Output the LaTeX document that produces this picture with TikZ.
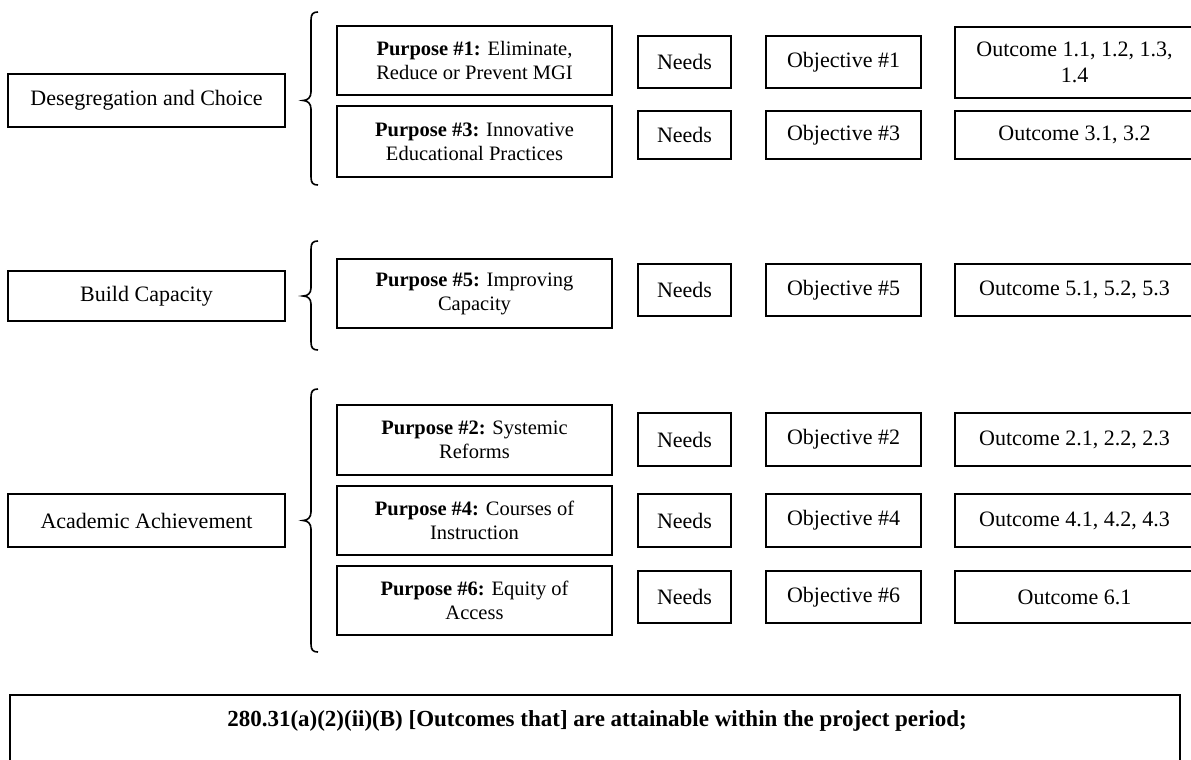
\documentclass[tikz,border=0pt]{standalone}
\usepackage{fontspec}
\setmainfont{Liberation Serif}
\begin{document}
\begin{tikzpicture}[x=1pt,y=-1pt,
  box/.style={draw, line width=1.7pt, inner sep=0pt, align=center,
    font=\fontsize{22}{26}\selectfont},
  pbox/.style={box, font=\fontsize{20.5}{24}\selectfont},
  catbox/.style={box, minimum width=277pt, minimum height=53pt},
  purbox/.style={pbox, minimum width=275pt, minimum height=70pt},
  needbox/.style={box, minimum width=93pt, minimum height=52pt},
  objbox/.style={box, minimum width=155pt, minimum height=52pt},
  outbox/.style={box, minimum width=239pt, minimum height=52pt},
  bracepath/.style={line width=1.6pt}]
\useasboundingbox (0,0) rectangle (1191,760);
\fill[white] (0,0) rectangle (1191,760);

% categories
\node[catbox] (dc) at (146.5,100.5) {Desegregation and Choice};
\node[catbox, minimum height=50pt] (bc) at (146.5,296) {Build Capacity};
\node[catbox] (aa) at (146.5,520.5) {Academic Achievement};

% group 1
\node[purbox, minimum height=69pt] (p1) at (474.5,60.5) {\textbf{Purpose \#1:} Eliminate,\\Reduce or Prevent MGI};
\node[needbox] (n1) at (684.5,62) {Needs};
\node[objbox] (o1) at (843.5,62) {Objective \#1};
\node[outbox, minimum height=71pt] (r1) at (1074.5,62.5) {Outcome 1.1, 1.2, 1.3,\\1.4};

\node[purbox, minimum height=71pt] (p3) at (474.5,141.5) {\textbf{Purpose \#3:} Innovative\\Educational Practices};
\node[needbox, minimum height=48pt] (n3) at (684.5,135) {Needs};
\node[objbox, minimum height=48pt] (o3) at (843.5,135) {Objective \#3};
\node[outbox, minimum height=48pt] (r3) at (1074.5,135) {Outcome 3.1, 3.2};

% group 2
\node[purbox, minimum height=69pt] (p5) at (474.5,293.5) {\textbf{Purpose \#5:} Improving\\Capacity};
\node[needbox] (n5) at (684.5,290) {Needs};
\node[objbox] (o5) at (843.5,290) {Objective \#5};
\node[outbox] (r5) at (1074.5,290) {Outcome 5.1, 5.2, 5.3};

% group 3
\node[purbox] (p2) at (474.5,440) {\textbf{Purpose \#2:} Systemic\\Reforms};
\node[needbox, minimum height=53pt] (n2) at (684.5,439.5) {Needs};
\node[objbox, minimum height=53pt] (o2) at (843.5,439.5) {Objective \#2};
\node[outbox, minimum height=53pt] (r2) at (1074.5,439.5) {Outcome 2.1, 2.2, 2.3};

\node[purbox, minimum height=69pt] (p4) at (474.5,520.5) {\textbf{Purpose \#4:} Courses of\\Instruction};
\node[needbox, minimum height=53pt] (n4) at (684.5,520.5) {Needs};
\node[objbox, minimum height=53pt] (o4) at (843.5,520.5) {Objective \#4};
\node[outbox, minimum height=53pt] (r4) at (1074.5,520.5) {Outcome 4.1, 4.2, 4.3};

\node[purbox, minimum height=69pt] (p6) at (474.5,600.5) {\textbf{Purpose \#6:} Equity of\\Access};
\node[needbox] (n6) at (684.5,597) {Needs};
\node[objbox] (o6) at (843.5,597) {Objective \#6};
\node[outbox] (r6) at (1074.5,597) {Outcome 6.1};

% braces
\coordinate (b1) at (303,100.5);
\coordinate (b2) at (303,296);
\coordinate (b3) at (303,520.5);
\draw[bracepath] (318,12) .. controls (313,12) and (311,14) .. (311,20) -- (311,92)
  .. controls (311,97) and (308,100.5) .. (b1) .. controls (308,100.5) and (311,104) .. (311,109)
  -- (311,177) .. controls (311,183) and (313,185) .. (318,185);
\draw[bracepath] (318,241) .. controls (313,241) and (311,243) .. (311,249) -- (311,288)
  .. controls (311,293) and (308,296) .. (b2) .. controls (308,296) and (311,299) .. (311,304)
  -- (311,342) .. controls (311,348) and (313,350) .. (318,350);
\draw[bracepath] (318,389) .. controls (313,389) and (311,391) .. (311,397) -- (311,512)
  .. controls (311,517) and (308,520.5) .. (b3) .. controls (308,520.5) and (311,524) .. (311,529)
  -- (311,644) .. controls (311,650) and (313,652) .. (318,652);

% bottom box
\node[draw, line width=1.7pt, minimum width=1170pt, minimum height=80pt, inner sep=0pt] (law) at (595,735) {};
\node[anchor=base, inner sep=0pt, font=\bfseries\fontsize{23}{27}\selectfont] (lawtext) at (597,726)
  {280.31(a)(2)(ii)(B) [Outcomes that] are attainable within the project period;};
\end{tikzpicture}
\end{document}
